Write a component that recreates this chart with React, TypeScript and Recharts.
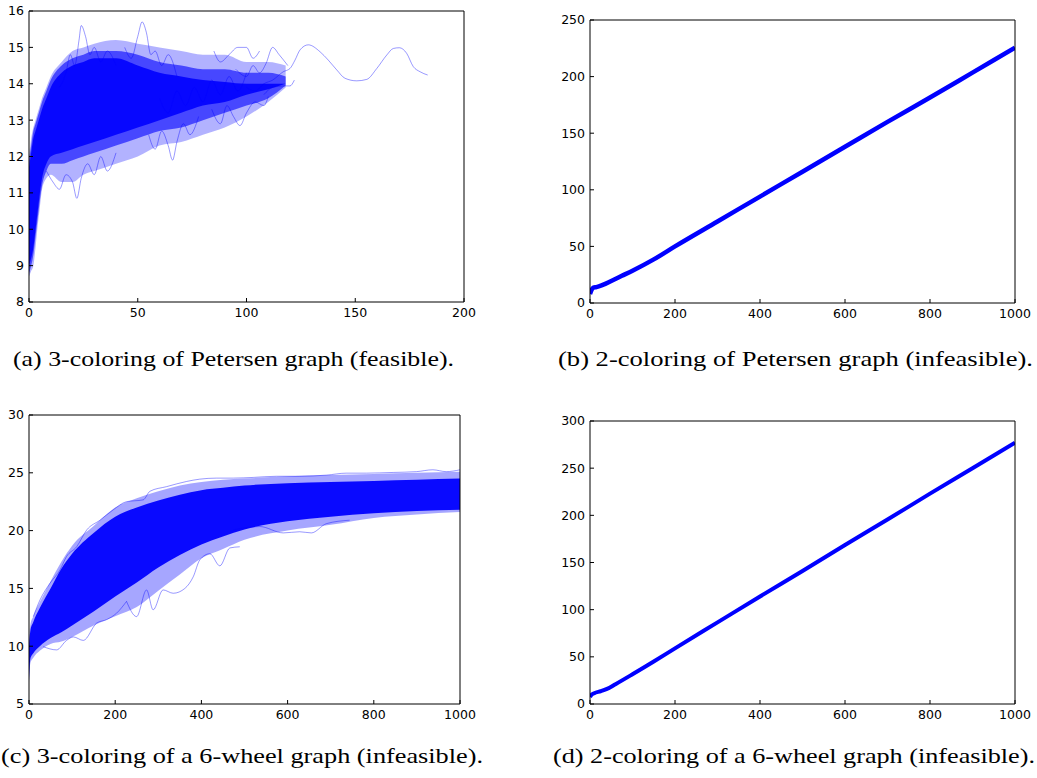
import { ComposedChart, Line, Area, XAxis, YAxis } from "recharts";

const BLUE = "#0000ff";

// (a) 3-coloring of Petersen graph (feasible)
const aXTicks = [0, 50, 100, 150, 200];
const aYTicks = [8, 9, 10, 11, 12, 13, 14, 15, 16];
const aBandX = [0, 1, 2, 3, 4, 5, 6, 8, 10, 15, 20, 25, 30, 40, 50, 60, 70, 80, 90, 100, 110, 118];
const aOuterLow = [8.7, 8.85, 9.0, 9.5, 10.1, 10.6, 11.1, 11.4, 11.5, 11.3, 11.3, 11.5, 11.6, 11.8, 12.0, 12.3, 12.4, 12.6, 12.8, 13.1, 13.5, 13.9];
const aOuterHigh = [12.0, 12.5, 12.8, 13.0, 13.2, 13.4, 13.6, 13.9, 14.2, 14.6, 14.9, 15.0, 15.1, 15.2, 15.1, 15.0, 14.9, 14.8, 14.8, 14.6, 14.6, 14.5];
const aMidLow = [8.8, 9.0, 9.3, 9.8, 10.3, 10.8, 11.2, 11.6, 11.8, 11.8, 11.9, 12.0, 12.1, 12.3, 12.5, 12.7, 12.8, 13.0, 13.2, 13.4, 13.6, 13.95];
const aMidHigh = [11.9, 12.3, 12.7, 12.9, 13.1, 13.3, 13.5, 13.8, 14.1, 14.5, 14.7, 14.8, 14.9, 14.9, 14.8, 14.6, 14.5, 14.4, 14.4, 14.3, 14.3, 14.2];
const aCoreLow = [9.0, 9.2, 9.5, 10.0, 10.5, 11.0, 11.4, 11.8, 12.0, 12.1, 12.2, 12.3, 12.4, 12.6, 12.8, 13.0, 13.2, 13.4, 13.5, 13.7, 13.85, 14.0];
const aCoreHigh = [11.7, 12.1, 12.5, 12.7, 12.9, 13.1, 13.3, 13.6, 13.9, 14.3, 14.5, 14.6, 14.7, 14.7, 14.5, 14.3, 14.2, 14.1, 14.05, 14.0, 14.0, 14.0];

// a few single runs that stand out from the bundle: [x, y]
const aTraces: number[][][] = [
  [[14, 13.9], [17, 14.3], [19, 14.8], [21, 14.5], [23, 15.2], [24, 15.6], [26, 15.3], [28, 14.8], [30, 15.0], [33, 14.6], [36, 14.9], [40, 14.5]],
  [[44, 15.0], [47, 14.7], [50, 15.3], [52, 15.7], [54, 15.4], [56, 14.8], [58, 14.9], [61, 14.5], [64, 14.8], [68, 14.2]],
  [[8, 11.6], [11, 11.3], [14, 11.1], [17, 11.5], [20, 11.3], [22, 10.85], [24, 11.4], [27, 11.8], [30, 11.5], [33, 12.0], [36, 11.6], [40, 12.1]],
  [[55, 12.6], [58, 12.2], [61, 12.7], [64, 12.3], [66, 11.9], [68, 12.4], [71, 12.9], [74, 12.6], [78, 13.1]],
  [[84, 13.3], [88, 12.9], [91, 13.4], [94, 13.1], [97, 12.85], [100, 13.2], [104, 13.5], [108, 13.4], [110, 13.65]],
  [[95, 14.4], [100, 14.2], [103, 14.5], [106, 14.3], [109, 14.56], [112, 15.0], [115, 14.8], [119, 14.5]],
  [[100, 13.9], [104, 13.8], [108, 14.0], [112, 14.1], [116.9, 14.33], [120, 14.42], [122.3, 14.65], [124.6, 14.93], [128.4, 15.07], [133.8, 14.88], [137.6, 14.65], [141.5, 14.38], [145.3, 14.15], [150.7, 14.08], [155.3, 14.12], [159.9, 14.42], [164.5, 14.79], [167.5, 14.97], [170.3, 14.99], [173.6, 14.84], [176.7, 14.47], [179.8, 14.33], [183.3, 14.24]],
  [[108, 13.7], [112, 13.9], [117, 13.94], [120, 13.94], [122, 14.1]],
  [[85, 14.9], [88, 14.6], [92, 14.8], [96, 15.0], [100, 15.0], [103, 14.7], [106, 14.9]],
  [[60, 13.6], [64, 13.2], [68, 13.8], [72, 13.4], [76, 13.9], [80, 13.5], [84, 14.1], [88, 13.7], [92, 14.2], [96, 13.8], [100, 14.3]],
];

// (b) 2-coloring of Petersen graph (infeasible)
const bXTicks = [0, 200, 400, 600, 800, 1000];
const bYTicks = [0, 50, 100, 150, 200, 250];
const bX = [0, 3, 8, 15, 30, 50, 75, 100, 150, 200, 300, 400, 500, 600, 700, 800, 900, 1000];
const bY = [8, 11, 13.5, 14, 16, 19.5, 24, 28.5, 38.5, 50, 72, 94, 116, 138, 160, 181.5, 203.5, 225.5];

// (c) 3-coloring of a 6-wheel graph (infeasible)
const cXTicks = [0, 200, 400, 600, 800, 1000];
const cYTicks = [5, 10, 15, 20, 25, 30];
const cBandX = [0, 3, 10, 25, 50, 75, 100, 150, 200, 250, 300, 350, 400, 450, 500, 600, 700, 800, 900, 1000];
const cOuterLow = [6.8, 8.5, 9.0, 9.6, 10.2, 10.4, 10.8, 11.8, 12.6, 13.4, 14.8, 16.2, 17.6, 18.4, 19.2, 20.0, 20.5, 21.1, 21.4, 21.6];
const cOuterHigh = [10.5, 11.8, 12.6, 13.8, 15.6, 17.3, 18.7, 20.4, 22.0, 22.8, 23.4, 23.9, 24.2, 24.4, 24.5, 24.7, 24.8, 24.9, 25.0, 25.1];
const cCoreLow = [7.0, 8.9, 9.4, 10.0, 10.7, 11.2, 11.8, 13.0, 14.3, 15.5, 16.8, 17.9, 18.8, 19.5, 20.1, 20.8, 21.2, 21.5, 21.7, 21.8];
const cCoreHigh = [10.0, 11.3, 12.1, 13.3, 15.0, 16.7, 18.0, 19.8, 21.2, 22.0, 22.6, 23.1, 23.5, 23.7, 23.9, 24.1, 24.2, 24.3, 24.4, 24.5];

const cTraces: number[][][] = [
  [[226, 13.9], [249.6, 12.56], [272.8, 14.87], [288, 13.14], [311, 14.87], [334.6, 14.58], [361.7, 15.0], [381, 16.0], [396.4, 17.47], [419.6, 18.0], [442.8, 16.95], [466, 18.5], [489, 18.6]],
  [[33, 9.96], [64, 9.68], [87, 10.5], [103, 10.8], [126, 10.5], [157, 12.0], [180, 12.3], [203, 12.85], [226, 13.86]],
  [[474, 20.06], [535.5, 20.35], [590, 19.8], [628, 19.9], [655, 19.8], [690, 20.6], [744, 20.9]],
  [[10, 12.56], [25.5, 14.0], [48.7, 15.45], [72, 16.6], [87, 17.75], [110.5, 18.6], [134, 20.06], [164.6, 20.9], [195.5, 21.8], [226, 22.5], [265, 22.66], [280.5, 23.4], [319, 23.8], [365.5, 24.25], [396, 24.45], [435, 24.54], [474, 24.54], [520, 24.6], [574, 24.7], [628, 24.7], [690, 24.8], [736, 24.97], [783, 24.97], [845, 25.03], [899, 25.1], [937, 25.26], [968, 25.1], [1000, 25.26]],
];

// (d) 2-coloring of a 6-wheel graph (infeasible)
const dXTicks = [0, 200, 400, 600, 800, 1000];
const dYTicks = [0, 50, 100, 150, 200, 250, 300];
const dX = [0, 3, 10, 25, 40, 60, 100, 150, 200, 300, 400, 500, 600, 700, 800, 900, 1000];
const dY = [7.5, 9.5, 11.5, 13.5, 16, 21, 31.5, 45, 59, 86.5, 114, 141, 168.5, 195.5, 223, 250, 277];

const toBand = (xs: number[], lo: number[], hi: number[]) =>
  xs.map((x, i) => ({ x, band: [lo[i], hi[i]] }));
const toLine = (xs: number[], ys: number[]) => xs.map((x, i) => ({ x, y: ys[i] }));
const toPts = (pts: number[][]) => pts.map(([x, y]) => ({ x, y }));

const tickStyle = { fill: "#000", fontSize: 12.5, fontFamily: "DejaVu Sans" };

function Panel(props: any) {
  const { left, top, width, height, margin, yWidth, xHeight, xDomain, xTicks, yDomain, yTicks, children } = props;
  return (
    <div style={{ position: "absolute", left, top }}>
      <ComposedChart width={width} height={height} margin={margin}>
        <XAxis type="number" dataKey="x" domain={xDomain} ticks={xTicks} interval={0} allowDataOverflow
          height={xHeight} stroke="#000" tickSize={-4} tickMargin={10} tick={tickStyle} />
        <XAxis xAxisId="top" orientation="top" type="number" dataKey="x" domain={xDomain} ticks={xTicks}
          interval={0} height={1} stroke="#000" tickSize={-4} tick={false} />
        <YAxis type="number" domain={yDomain} ticks={yTicks} interval={0} allowDataOverflow width={yWidth}
          stroke="#000" tickSize={-4} tickMargin={9} tick={tickStyle} />
        <YAxis yAxisId="right" orientation="right" type="number" domain={yDomain} ticks={yTicks}
          interval={0} width={1} stroke="#000" tickSize={-4} tick={false} />
        {children}
      </ComposedChart>
    </div>
  );
}

const thin = (pts: number[][], i: number) => (
  <Line key={`t${i}`} data={toPts(pts)} dataKey="y" type="monotone" stroke={BLUE} strokeOpacity={0.5}
    strokeWidth={0.8} dot={false} activeDot={false} isAnimationActive={false} />
);

const band = (key: string, data: any[], opacity: number) => (
  <Area key={key} data={data} dataKey="band" type="monotone" stroke="none" fill={BLUE} fillOpacity={opacity}
    dot={false} activeDot={false} isAnimationActive={false} />
);

const captionStyle = { fontFamily: "Liberation Serif", fontSize: 21, fill: "#000" };

export default function App() {
  return (
    <div style={{ position: "absolute", left: 0, top: 0, width: 1037, height: 778, background: "#fff" }}>
      <Panel left={0} top={0} width={480} height={325} margin={{ top: 10, right: 15, left: 0, bottom: 0 }}
        yWidth={29} xHeight={23} xDomain={[0, 200]} xTicks={aXTicks} yDomain={[8, 16]} yTicks={aYTicks}>
        {band("ao", toBand(aBandX, aOuterLow, aOuterHigh), 0.3)}
        {band("am", toBand(aBandX, aMidLow, aMidHigh), 0.6)}
        {band("ac", toBand(aBandX, aCoreLow, aCoreHigh), 0.9)}
        {aTraces.map(thin)}
      </Panel>

      <Panel left={560} top={0} width={477} height={325} margin={{ top: 19, right: 21, left: 0, bottom: 0 }}
        yWidth={30} xHeight={22} xDomain={[0, 1000]} xTicks={bXTicks} yDomain={[0, 250]} yTicks={bYTicks}>
        <Line data={toLine(bX, bY)} dataKey="y" type="monotone" stroke={BLUE} strokeWidth={4.5}
          dot={false} activeDot={false} isAnimationActive={false} />
      </Panel>

      <Panel left={0} top={400} width={480} height={325} margin={{ top: 14, right: 19, left: 0, bottom: 0 }}
        yWidth={29} xHeight={21} xDomain={[0, 1000]} xTicks={cXTicks} yDomain={[5, 30]} yTicks={cYTicks}>
        {band("co", toBand(cBandX, cOuterLow, cOuterHigh), 0.35)}
        {band("cc", toBand(cBandX, cCoreLow, cCoreHigh), 0.95)}
        {cTraces.map(thin)}
      </Panel>

      <Panel left={560} top={400} width={477} height={325} margin={{ top: 20, right: 21, left: 0, bottom: 0 }}
        yWidth={30} xHeight={21} xDomain={[0, 1000]} xTicks={dXTicks} yDomain={[0, 300]} yTicks={dYTicks}>
        <Line data={toLine(dX, dY)} dataKey="y" type="monotone" stroke={BLUE} strokeWidth={4}
          dot={false} activeDot={false} isAnimationActive={false} />
      </Panel>

      <svg width={1037} height={778} style={{ position: "absolute", left: 0, top: 0, pointerEvents: "none" }}>
        <text x={13} y={366} textLength={441} lengthAdjust="spacingAndGlyphs" style={captionStyle}>
          (a) 3-coloring of Petersen graph (feasible).
        </text>
        <text x={558} y={366} textLength={475} lengthAdjust="spacingAndGlyphs" style={captionStyle}>
          (b) 2-coloring of Petersen graph (infeasible).
        </text>
        <text x={1} y={763} textLength={482} lengthAdjust="spacingAndGlyphs" style={captionStyle}>
          (c) 3-coloring of a 6-wheel graph (infeasible).
        </text>
        <text x={553} y={763} textLength={482} lengthAdjust="spacingAndGlyphs" style={captionStyle}>
          (d) 2-coloring of a 6-wheel graph (infeasible).
        </text>
      </svg>
    </div>
  );
}
